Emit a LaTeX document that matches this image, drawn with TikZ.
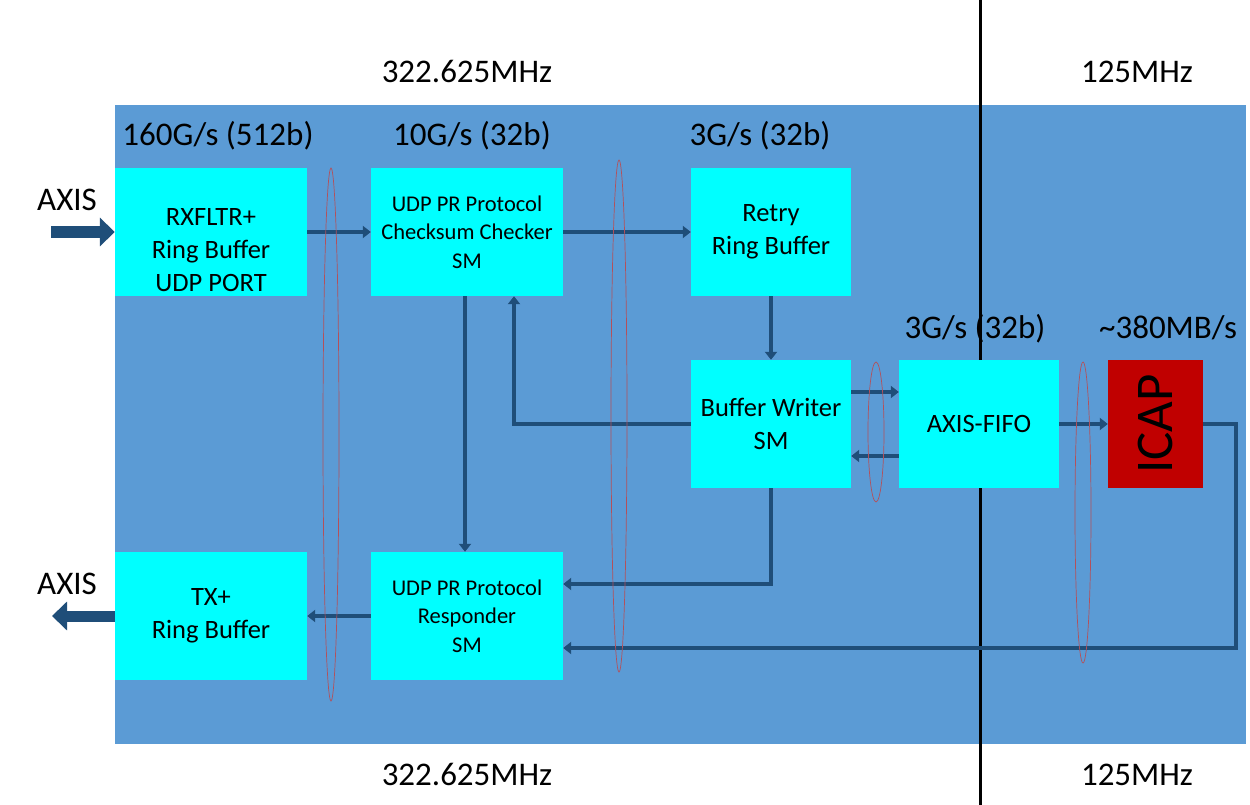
\documentclass[tikz,border=0pt]{standalone}
\usepackage{fontspec}
\setmainfont{Carlito}
\usetikzlibrary{arrows.meta,calc}
\definecolor{bgblue}{RGB}{91,155,213}
\definecolor{boxcyan}{RGB}{0,255,255}
\definecolor{icapred}{RGB}{192,0,0}
\definecolor{arrc}{RGB}{31,78,121}
\definecolor{ellc}{RGB}{180,80,90}
\tikzset{
  blk/.style={fill=boxcyan, draw=none, inner sep=0pt, align=center, font=\fontsize{26.5}{33}\selectfont},
  blksm/.style={blk, font=\fontsize{22.5}{28.5}\selectfont},
  lbl/.style={font=\fontsize{33}{40}\selectfont, inner sep=0pt, text height=21pt, text depth=0pt},
  arr/.style={draw=arrc, line width=3.5pt, -{Triangle[length=8pt 0 0,width=12pt 0 0]}},
  bigarr/.style={draw=arrc, line width=11pt, -{Triangle[length=15pt 0 0,width=28pt 0 0]}},
  ell/.style={draw=ellc, line width=0.7pt},
}
\begin{document}
\begin{tikzpicture}[x=1pt,y=-1pt]
\useasboundingbox (0,0) rectangle (1250,805);
\fill[white] (0,0) rectangle (1250,805);
\fill[bgblue] (115,105) rectangle (1246,744);

% clock divider
\coordinate (dtop) at (980,0);
\coordinate (dbot) at (980,805);
\draw[black, line width=3pt] (dtop) -- (dbot);

% blocks
\node[blk, minimum width=192, minimum height=128] (rx) at (211,232) {};
\node[blk, fill=none] (rxt) at (211,250) {RXFLTR+\\Ring Buffer\\UDP PORT};
\node[blksm, minimum width=192, minimum height=128] (chk) at (467,232) {UDP PR Protocol\\Checksum Checker\\SM};
\node[blk, minimum width=160, minimum height=128] (retry) at (771,232) {Retry\\Ring Buffer};
\node[blk, minimum width=160, minimum height=128] (bw) at (771,424) {Buffer Writer\\SM};
\node[blk, minimum width=160, minimum height=128] (fifo) at (979,424) {AXIS-FIFO};
\node[blk, fill=icapred, minimum width=95, minimum height=128] (icap) at (1155.5,424) {};
\node[font=\fontsize{53}{60}\selectfont, rotate=90, inner sep=0pt] (icapt) at (icap.center) {ICAP};
\node[blk, minimum width=192, minimum height=128] (tx) at (211,616) {TX+\\Ring Buffer};
\node[blksm, minimum width=192, minimum height=128] (resp) at (467,616) {UDP PR Protocol\\Responder\\SM};

% connectors
\draw[arr] (rx.east) -- (chk.west);
\draw[arr] (chk.east) -- (retry.west);
\draw[arr] (retry.south) -- (bw.north);
\draw[arr] ([xshift=-2pt]chk.south) -- ([xshift=-2pt]resp.north);
\draw[arr] (bw.west) -| ([xshift=47pt]chk.south);
\draw[arr] ([yshift=32pt]bw.east) -- ([yshift=32pt]fifo.west);
\draw[arr] ([yshift=-32pt]fifo.west) -- ([yshift=-32pt]bw.east);
\draw[arr] (fifo.east) -- (icap.west);
\coordinate (c1) at (1236,424);
\draw[arr] (icap.east) -- (c1) |- ([yshift=-32pt]resp.east);
\draw[arr] (bw.south) |- ([yshift=32pt]resp.east);
\draw[arr] (resp.west) -- (tx.east);

% AXIS big arrows
\coordinate (inS) at (51,232);
\coordinate (outE) at (52,616);
\draw[bigarr] (inS) -- (rx.west);
\draw[bigarr] (tx.west) -- (outE);
\node[lbl] (axin) at (67,200) {AXIS};
\node[lbl] (axout) at (67,584) {AXIS};

% ellipses
\draw[ell] (331,434.5) ellipse (8 and 266.5);
\draw[ell] (619,416) ellipse (8 and 256);
\draw[ell] (876,432) ellipse (8 and 70);
\draw[ell] (1083,512.5) ellipse (8 and 150.5);

% labels
\node[lbl] (f1) at (467,72) {322.625MHz};
\node[lbl] (f2) at (467,775) {322.625MHz};
\node[lbl] (f3) at (1137,72) {125MHz};
\node[lbl] (f4) at (1137,775) {125MHz};
\node[lbl] (r1) at (218,135) {160G/s (512b)};
\node[lbl] (r2) at (472,135) {10G/s (32b)};
\node[lbl] (r3) at (760,135) {3G/s (32b)};
\node[lbl] (r4) at (975,328) {3G/s (32b)};
\node[lbl] (r5) at (1168,328) {\textasciitilde380MB/s};
\end{tikzpicture}
\end{document}
